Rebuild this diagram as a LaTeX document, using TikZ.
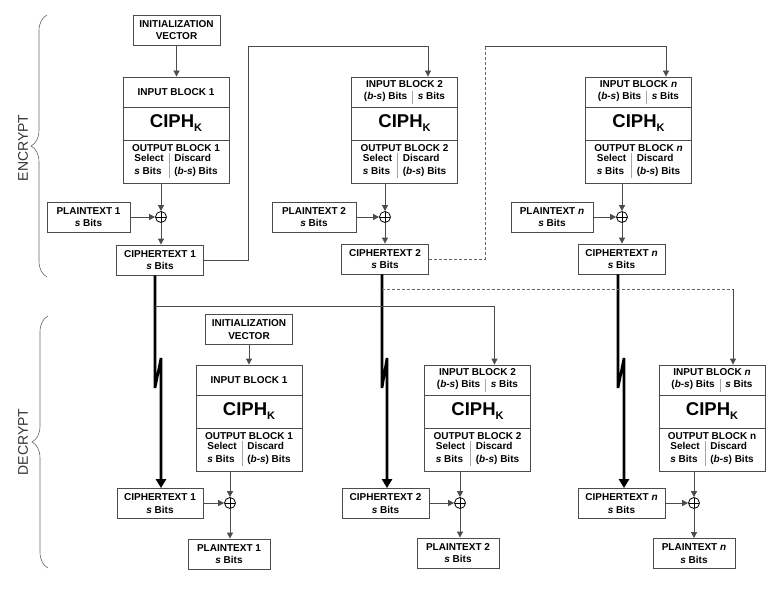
\documentclass[tikz,border=0pt]{standalone}
\usepackage{fontspec}
\setmainfont{Liberation Sans}
\usetikzlibrary{arrows.meta,decorations.pathreplacing}
\newcommand{\bitsep}{\hspace{5pt}{\color{black!35}\vrule width 0.5pt}\hspace{5pt}}
\newcommand{\ciphk}{{\fontsize{18.5}{18.5}\selectfont CIPH\raisebox{-4pt}{\fontsize{11}{11}\selectfont K}}}
\newcommand{\outbits}{\begin{tabular}{@{}l@{\bitsep}l@{}}Select & Discard\\\textit{s} Bits & (\textit{b-s}) Bits\end{tabular}}
\newcommand{\inbits}{\begin{tabular}{@{}l@{\bitsep}l@{}}(\textit{b-s}) Bits & \textit{s} Bits\end{tabular}}

\begin{document}
\begin{tikzpicture}[x=1pt,y=-1pt,font=\fontsize{10}{12.5}\selectfont\bfseries,
    box/.style={draw=black!70,line width=0.8pt,inner sep=0pt,align=center,minimum width=87pt,minimum height=30pt},
    blk/.style={box,minimum width=106pt},
    inpart/.style={blk,minimum height=30pt},
    ciphpart/.style={blk,minimum height=33pt},
    outpart/.style={blk,minimum height=43pt},
    xorop/.style={circle,draw,line width=0.8pt,minimum size=11pt,inner sep=0pt,
        path picture={\draw[line width=0.8pt] (path picture bounding box.north) -- (path picture bounding box.south)
            (path picture bounding box.west) -- (path picture bounding box.east);}},
    link/.style={draw=black!70,line width=0.8pt,-{Triangle[length=6pt,width=6pt]}},
    feed/.style={draw=black!60,line width=0.8pt,dash pattern=on 3pt off 2pt},
    fat/.style={line width=2.6pt,line join=bevel,-{Triangle[length=9pt,width=10pt]}},
    side/.style={draw=black!60,line width=0.6pt,decorate,decoration={brace,amplitude=16pt}},
    sidelabel/.style={rotate=90,text=black!80,font=\fontsize{14}{14}\selectfont\mdseries}]
\useasboundingbox (0,0) rectangle (776,594);

% encrypt
\node[box] (eiv) at (176.5,30) {INITIALIZATION\\VECTOR};
\node[inpart] (e1in) at (176,92) {INPUT BLOCK 1};
\node[ciphpart] (e1ck) at (176,123.5) {\ciphk};
\node[outpart] (e1out) at (176,161.5) {OUTPUT BLOCK 1\\\outbits};
\node[xorop] (e1x) at (161,217) {};
\node[box,minimum width=83pt] (e1pt) at (88.5,217) {PLAINTEXT 1\\\textit{s} Bits};
\node[box] (e1ct) at (160,260) {CIPHERTEXT 1\\\textit{s} Bits};

\node[inpart] (e2in) at (404.5,92) {INPUT BLOCK 2\\\inbits};
\node[ciphpart] (e2ck) at (404.5,123.5) {\ciphk};
\node[outpart] (e2out) at (404.5,161.5) {OUTPUT BLOCK 2\\\outbits};
\node[xorop] (e2x) at (385,217) {};
\node[box,minimum width=84pt] (e2pt) at (314,217) {PLAINTEXT 2\\\textit{s} Bits};
\node[box] (e2ct) at (385,259) {CIPHERTEXT 2\\\textit{s} Bits};

\node[inpart] (enin) at (638.5,92) {INPUT BLOCK \textit{n}\\\inbits};
\node[ciphpart] (enck) at (638.5,123.5) {\ciphk};
\node[outpart] (enout) at (638.5,161.5) {OUTPUT BLOCK \textit{n}\\\outbits};
\node[xorop] (enx) at (622,217) {};
\node[box,minimum width=82pt] (enpt) at (552,217) {PLAINTEXT \textit{n}\\\textit{s} Bits};
\node[box] (enct) at (621.5,259) {CIPHERTEXT \textit{n}\\\textit{s} Bits};

\draw[link] (eiv) -- (eiv |- e1in.north);
\foreach \k in {e1,e2,en}{
  \draw[link] (\k x |- \k out.south) -- (\k x);
  \draw[link] (\k pt) -- (\k x);
  \draw[link] (\k x) -- (\k x |- \k ct.north);
}
\coordinate (fb1) at (248,46);
\coordinate (fb2) at (485,46);
\draw[link] (e1ct.east) -| (fb1) -| ([xshift=23.5pt]e2in.north);
\draw[feed] (e2ct.east) -| (fb2);
\draw[link] (fb2) -| ([xshift=27.5pt]enin.north);

% decrypt
\node[box] (div) at (249,329.5) {INITIALIZATION\\VECTOR};
\node[inpart] (d1in) at (249,380) {INPUT BLOCK 1};
\node[ciphpart] (d1ck) at (249,411.5) {\ciphk};
\node[outpart] (d1out) at (249,449.5) {OUTPUT BLOCK 1\\\outbits};
\node[xorop] (d1x) at (230,503) {};
\node[box,minimum width=86pt] (d1ct) at (160,503.5) {CIPHERTEXT 1\\\textit{s} Bits};
\node[box,minimum width=82pt] (d1pt) at (229,554) {PLAINTEXT 1\\\textit{s} Bits};

\node[inpart] (d2in) at (477.5,380) {INPUT BLOCK 2\\\inbits};
\node[ciphpart] (d2ck) at (477.5,411.5) {\ciphk};
\node[outpart] (d2out) at (477.5,449.5) {OUTPUT BLOCK 2\\\outbits};
\node[xorop] (d2x) at (460,503) {};
\node[box] (d2ct) at (385.5,503.5) {CIPHERTEXT 2\\\textit{s} Bits};
\node[box,minimum width=82pt] (d2pt) at (458,553) {PLAINTEXT 2\\\textit{s} Bits};

\node[inpart] (dnin) at (712,380) {INPUT BLOCK \textit{n}\\\inbits};
\node[ciphpart] (dnck) at (712,411.5) {\ciphk};
\node[outpart] (dnout) at (712,449.5) {OUTPUT BLOCK n\\\outbits};
\node[xorop] (dnx) at (694,503) {};
\node[box] (dnct) at (621.5,503.5) {CIPHERTEXT \textit{n}\\\textit{s} Bits};
\node[box,minimum width=82pt] (dnpt) at (694,553.5) {PLAINTEXT \textit{n}\\\textit{s} Bits};

\draw[link] (div) -- (div |- d1in.north);
\foreach \k in {d1,d2,dn}{
  \draw[link] (\k x |- \k out.south) -- (\k x);
  \draw[link] (\k ct.east |- \k x) -- (\k x);
  \draw[link] (\k x) -- (\k x |- \k pt.north);
}

% ciphertext carried down
\coordinate (k1a) at (155,388); \coordinate (k1b) at (161,358);
\coordinate (k2a) at (382,388); \coordinate (k2b) at (387,358);
\coordinate (k3a) at (618,388); \coordinate (k3b) at (624,358);
\draw[fat] (k1a |- e1ct.south) -- (k1a) -- (k1b) -- (k1b |- d1ct.north);
\draw[fat] (k2a |- e2ct.south) -- (k2a) -- (k2b) -- (k2b |- d2ct.north);
\draw[fat] (k3a |- enct.south) -- (k3a) -- (k3b) -- (k3b |- dnct.north);

\coordinate (t1) at (155,306);
\draw[link] (t1) -| ([xshift=17pt]d2in.north);
\coordinate (t2) at (382,289);
\coordinate (t2e) at (733,289);
\draw[feed] (t2) -- (t2e);
\draw[link] (t2e) -- ([xshift=21pt]dnin.north);

% braces
\draw[side] (47,277) -- (47,15);
\node[sidelabel] (enc) at (23,148) {ENCRYPT};
\draw[side] (48,568) -- (48,316);
\node[sidelabel] (dec) at (23,442) {DECRYPT};
\end{tikzpicture}
\end{document}
